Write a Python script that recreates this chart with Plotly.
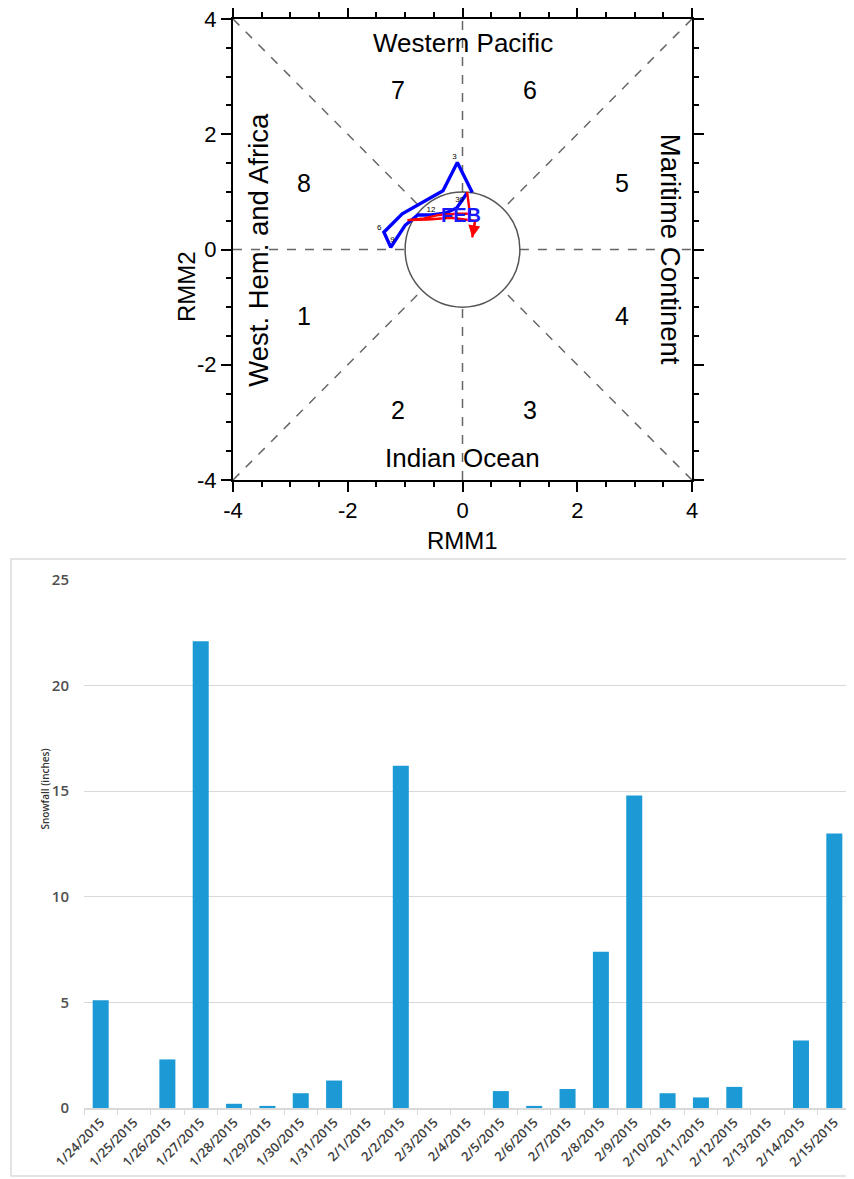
import plotly.graph_objects as go

# ---------------- MJO phase diagram data ----------------
jan_rmm1 = [0.17, -0.09, -0.34, -0.76, -1.05, -1.37, -1.25, -1.00, -0.78, -0.55, -0.30, -0.10, 0.08]
jan_rmm2 = [0.99, 1.51, 1.02, 0.78, 0.62, 0.30, 0.04, 0.42, 0.60, 0.60, 0.63, 0.72, 0.98]

feb_rmm1 = [0.08, 0.13, -0.10, -0.41, -0.67, -0.96, -0.60, -0.20, 0.22, 0.17]
feb_rmm2 = [1.00, 0.62, 0.62, 0.60, 0.54, 0.51, 0.52, 0.55, 0.50, 0.21]

day_labels = ["3", "6", "9", "12", "30"]
day_rmm1 = [-0.14, -1.45, -1.22, -0.55, -0.05]
day_rmm2 = [1.60, 0.38, 0.16, 0.69, 0.86]

month_label = "FEB"
month_rmm1 = -0.03
month_rmm2 = 0.60

phase_numbers = ["1", "2", "3", "4", "5", "6", "7", "8"]
phase_rmm1 = [-2.76, -1.12, 1.18, 2.78, 2.78, 1.18, -1.12, -2.76]
phase_rmm2 = [-1.15, -2.79, -2.79, -1.15, 1.15, 2.77, 2.77, 1.15]

region_names = ["Western Pacific", "Indian Ocean", "West. Hem. and Africa", "Maritime Continent"]
region_rmm1 = [0.0, 0.0, -3.56, 3.63]
region_rmm2 = [3.58, -3.62, 0.0, 0.0]
region_angle = [0, 0, -90, 90]

rmm_tickvals = [-4, -2, 0, 2, 4]
rmm_ticktext = ["-4", "-2", "0", "2", "4"]

# ---------------- Snowfall data ----------------
dates = ["1/24/2015", "1/25/2015", "1/26/2015", "1/27/2015", "1/28/2015", "1/29/2015",
         "1/30/2015", "1/31/2015", "2/1/2015", "2/2/2015", "2/3/2015", "2/4/2015",
         "2/5/2015", "2/6/2015", "2/7/2015", "2/8/2015", "2/9/2015", "2/10/2015",
         "2/11/2015", "2/12/2015", "2/13/2015", "2/14/2015", "2/15/2015"]
snowfall = [5.1, 0, 2.3, 22.1, 0.2, 0.1, 0.7, 1.3, 0, 16.2, 0, 0,
            0.8, 0.1, 0.9, 7.4, 14.8, 0.7, 0.5, 1.0, 0, 3.2, 13.0]

# the page places the figure 8 px from the top-left corner of the window
OFF = 8
W, H = 854 - OFF, 1179 - OFF


def xp(px):
    return (px - OFF) / W


def yp(py):
    return 1 - (py - OFF) / H


HELV = "Liberation Sans, Arial, sans-serif"
CAL = "Open Sans, sans-serif"

fig = go.Figure()

fig.add_trace(go.Scatter(x=jan_rmm1, y=jan_rmm2, mode="lines",
                         line=dict(color="#0000ff", width=3.4), xaxis="x", yaxis="y",
                         showlegend=False, hoverinfo="skip"))
fig.add_trace(go.Scatter(x=feb_rmm1, y=feb_rmm2, mode="lines",
                         line=dict(color="#ff0000", width=2.4), xaxis="x", yaxis="y",
                         showlegend=False, hoverinfo="skip"))
fig.add_trace(go.Scatter(x=day_rmm1, y=day_rmm2, mode="text", text=day_labels,
                         textfont=dict(family=HELV, size=8, color="black"),
                         xaxis="x", yaxis="y", showlegend=False, hoverinfo="skip"))

fig.add_trace(go.Bar(x=dates, y=snowfall, marker=dict(color="#1b9ad6", line=dict(width=0)),
                     xaxis="x2", yaxis="y2", showlegend=False))

shapes = []
dash = dict(color="#666666", width=1.5, dash="dash")
r = 0.7071
for sx, sy in [(-1, -1), (1, -1), (1, 1), (-1, 1)]:
    shapes.append(dict(type="line", xref="x", yref="y", x0=4 * sx, y0=4 * sy,
                       x1=r * sx, y1=r * sy, line=dash, layer="below"))
for (x0, y0, x1, y1) in [(-4, 0, -1, 0), (1, 0, 4, 0), (0, -4, 0, -1), (0, 1, 0, 4)]:
    shapes.append(dict(type="line", xref="x", yref="y", x0=x0, y0=y0, x1=x1, y1=y1,
                       line=dash, layer="below"))
shapes.append(dict(type="circle", xref="x", yref="y", x0=-1, y0=-1, x1=1, y1=1,
                   line=dict(color="#555555", width=1.5), layer="below"))
shapes.append(dict(type="rect", xref="paper", yref="paper",
                   x0=xp(11), x1=xp(851), y0=yp(1176), y1=yp(559),
                   line=dict(color="#dcdcdc", width=1.5), layer="below"))

annotations = []
for t, x, y in zip(phase_numbers, phase_rmm1, phase_rmm2):
    annotations.append(dict(text=t, x=x, y=y, xref="x", yref="y", showarrow=False,
                            font=dict(family=HELV, size=25, color="black")))
for t, x, y, a in zip(region_names, region_rmm1, region_rmm2, region_angle):
    annotations.append(dict(text=t, x=x, y=y, xref="x", yref="y", showarrow=False,
                            textangle=a,
                            font=dict(family=HELV, size=26 if a == 0 else 27.5, color="black")))
annotations.append(dict(text=month_label, x=month_rmm1, y=month_rmm2, xref="x", yref="y",
                        showarrow=False,
                        font=dict(family=HELV, size=20, color="#1a1aff", weight="bold")))
annotations.append(dict(x=feb_rmm1[-1], y=feb_rmm2[-1], ax=feb_rmm1[-2], ay=feb_rmm2[-2],
                        xref="x", yref="y", axref="x", ayref="y", text="", showarrow=True,
                        arrowhead=2, arrowsize=1.2, arrowwidth=2, arrowcolor="#ff0000"))
annotations.append(dict(text="RMM1", x=xp(462), y=yp(540), xref="paper", yref="paper",
                        showarrow=False, font=dict(family=HELV, size=24, color="black")))
annotations.append(dict(text="RMM2", x=xp(171), y=yp(249), xref="paper", yref="paper",
                        showarrow=False, textangle=-90,
                        font=dict(family=HELV, size=24, color="black")))
annotations.append(dict(text="Snowfall (inches)", x=xp(35), y=yp(832), xref="paper",
                        yref="paper", showarrow=False, textangle=-90,
                        font=dict(family=CAL, size=10, color="#333333", weight=600)))

axis_phase = dict(range=[-4, 4], tickmode="array", tickvals=rmm_tickvals, ticktext=rmm_ticktext,
                  ticks="outside", ticklen=10, tickwidth=2, ticklabeloverflow="allow",
                  tickcolor="black", showline=True, linewidth=2, linecolor="black",
                  mirror="ticks", showgrid=False, zeroline=False, automargin=False,
                  tickfont=dict(family=HELV, size=22, color="black"),
                  minor=dict(dtick=0.5, tick0=0, ticks="outside", ticklen=5, tickwidth=1.5,
                             tickcolor="black", showgrid=False),
                  fixedrange=True)

fig.update_layout(
    width=W, height=H, autosize=False,
    margin=dict(l=0, r=0, t=0, b=0, pad=0, autoexpand=False),
    paper_bgcolor="white", plot_bgcolor="white",
    xaxis=dict(domain=[xp(233), xp(692)], anchor="y", **axis_phase),
    yaxis=dict(domain=[yp(480), yp(19)], anchor="x", **axis_phase),
    xaxis2=dict(domain=[xp(84), xp(851)], anchor="y2", type="category", automargin=False,
                showline=True, linecolor="#d9d9d9", linewidth=1.5,
                ticks="outside", tickson="boundaries", ticklen=5, tickcolor="#d9d9d9",
                tickangle=-45, showgrid=False,
                tickfont=dict(family=CAL, size=13, color="#404040", weight=600)),
    yaxis2=dict(domain=[yp(1108), yp(580)], anchor="x2", range=[0, 25], dtick=5,
                automargin=False,
                showgrid=True, gridcolor="#d9d9d9", gridwidth=1, zeroline=False,
                showline=False, ticks="", ticklabelstandoff=14,
                tickfont=dict(family=CAL, size=15, color="#505050", weight=600)),
    bargap=0.52,
    shapes=shapes,
    annotations=annotations,
)

fig.write_html("out.html")
